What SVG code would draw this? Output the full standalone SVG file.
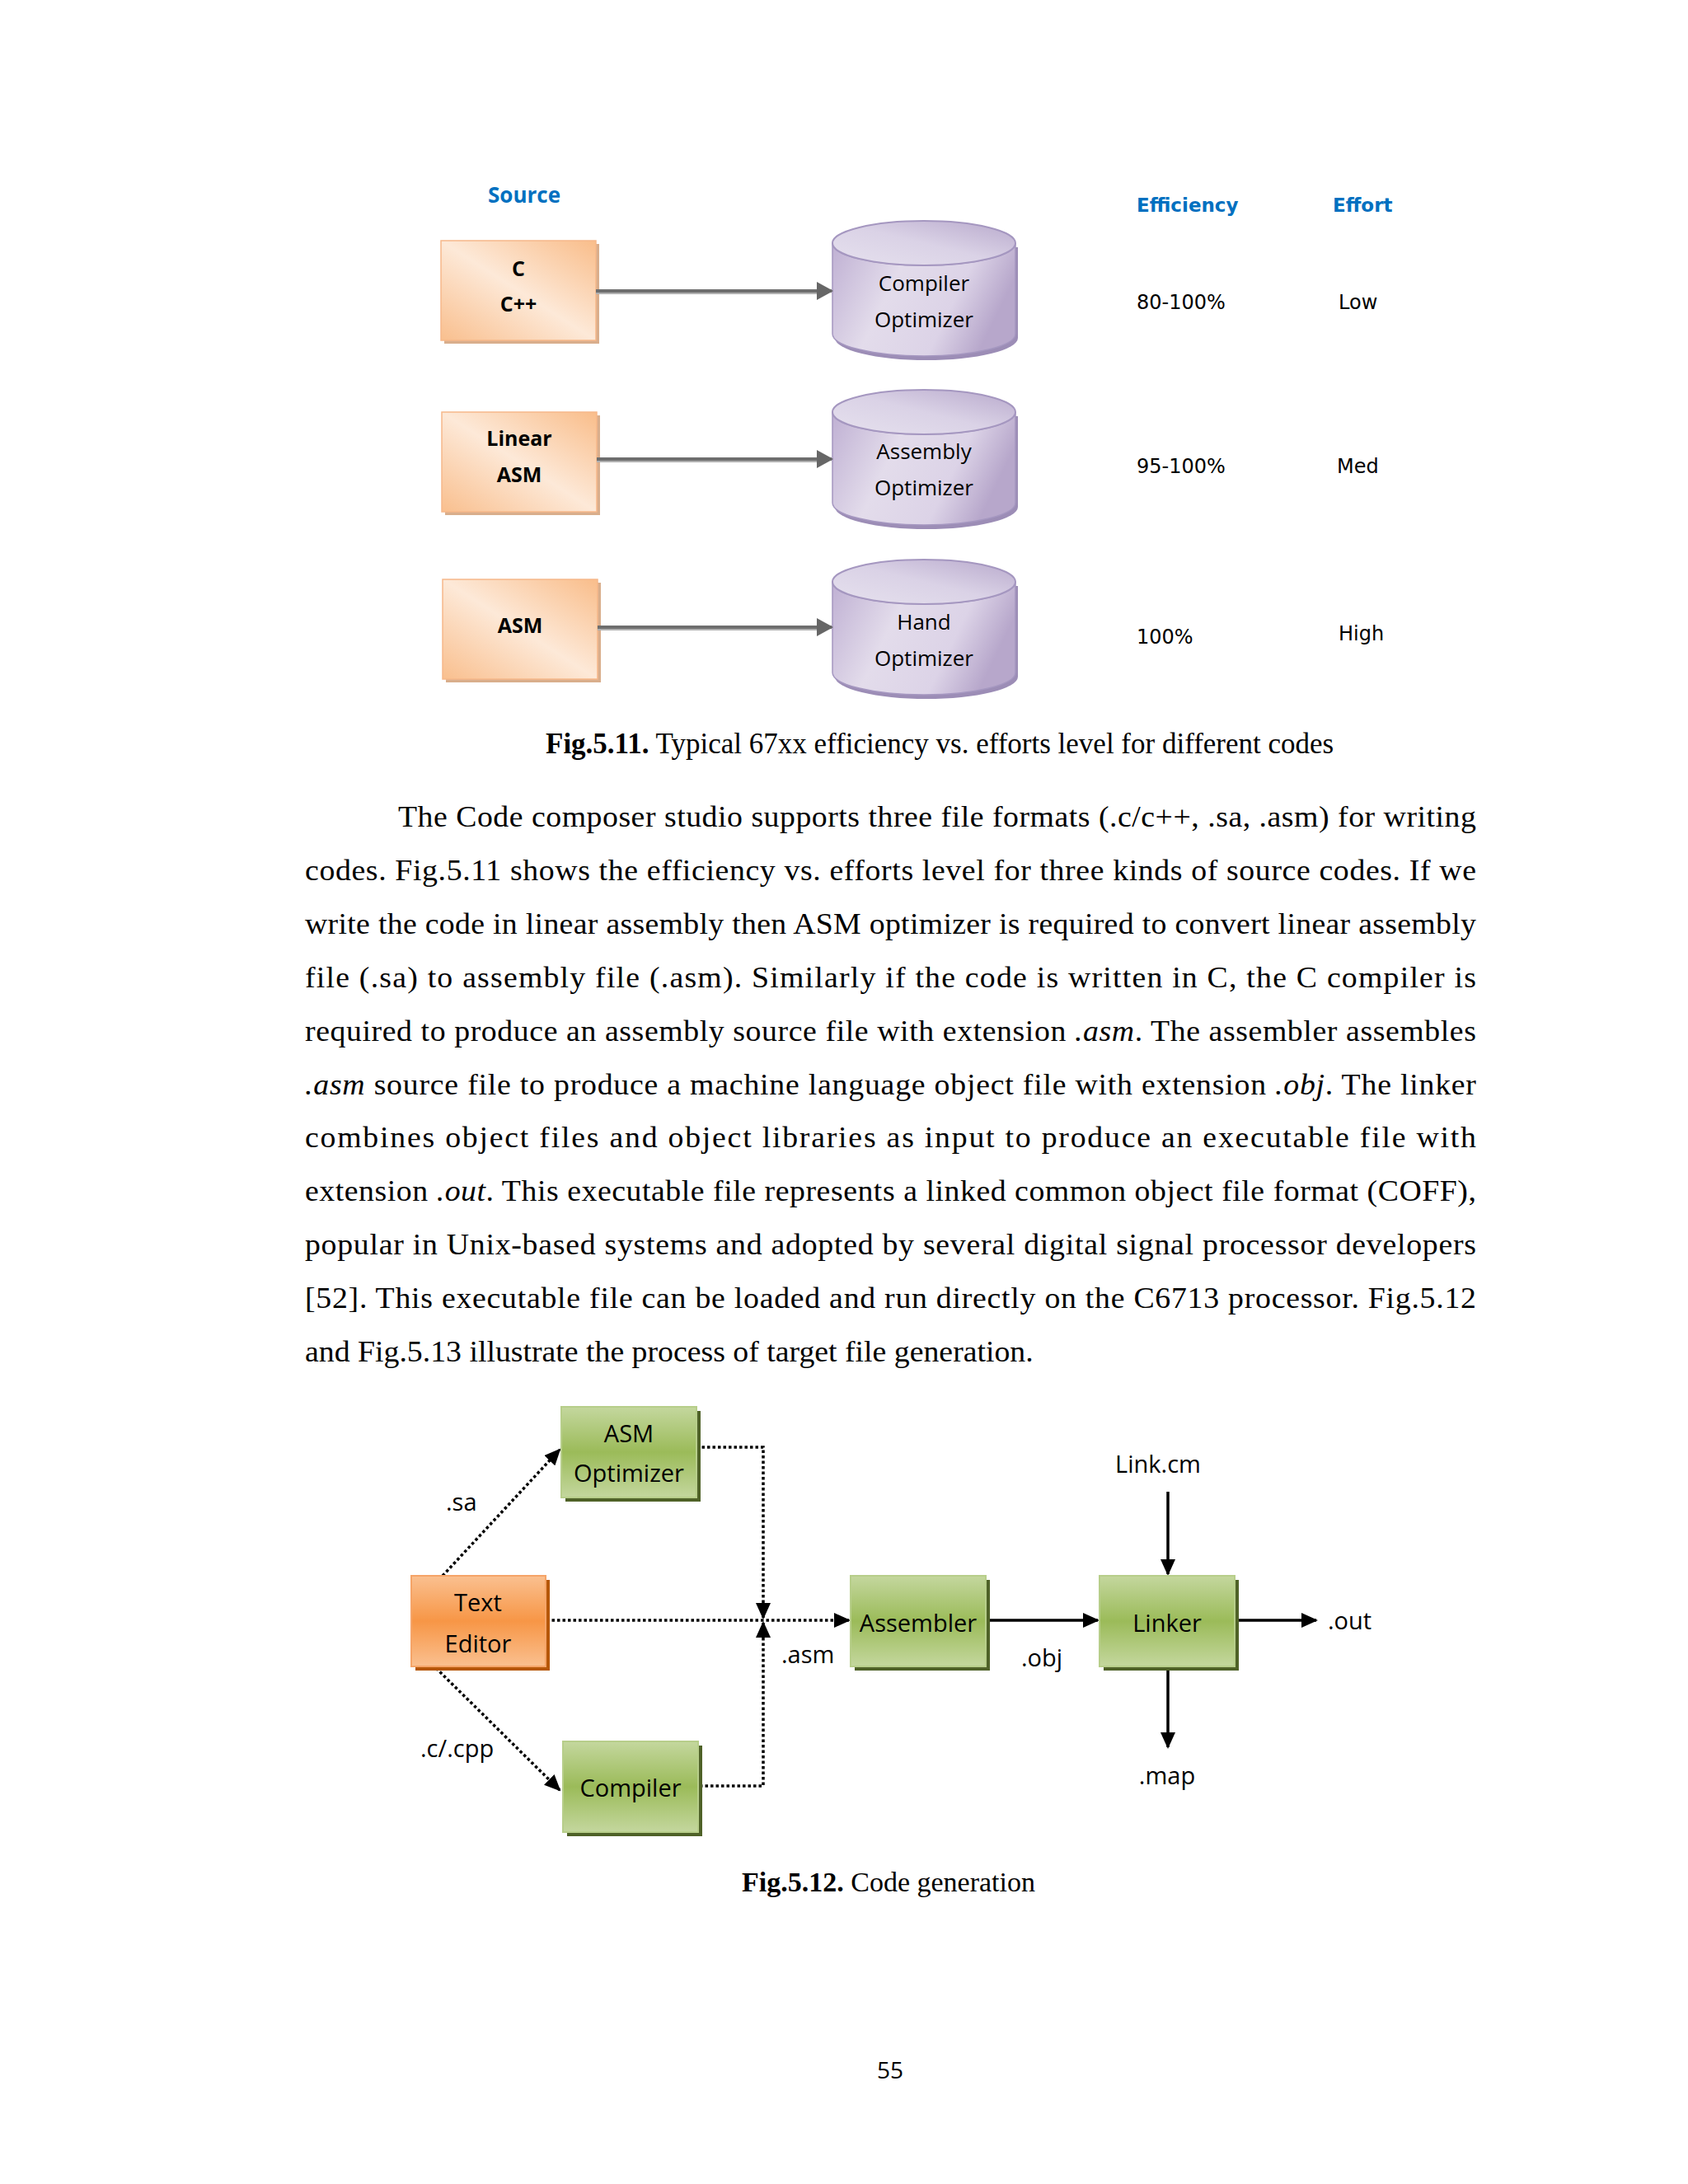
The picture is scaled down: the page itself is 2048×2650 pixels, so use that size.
<svg xmlns="http://www.w3.org/2000/svg" width="2048" height="2650" viewBox="0 0 2048 2650">
<defs>
<style>
.body{font-family:"Liberation Serif","Times New Roman",serif;font-size:35px;fill:#000}
.cap{font-family:"Liberation Serif","Times New Roman",serif;font-size:34px;fill:#000}
.hdr{font-family:"Open Sans","Noto Sans",sans-serif;font-size:26px;font-weight:bold;fill:#0070C0}
.col{font-family:"DejaVu Sans",Verdana,sans-serif;font-size:23px;font-weight:bold;fill:#0070C0}
.val{font-family:"DejaVu Sans",Verdana,sans-serif;font-size:24px;fill:#000}
.src{font-family:"Open Sans","Noto Sans",sans-serif;font-size:25px;font-weight:bold;fill:#000;text-anchor:middle}
.cyl{font-family:"Open Sans","Noto Sans",sans-serif;font-size:26px;fill:#000;text-anchor:middle}
.lbl{font-family:"Open Sans","Noto Sans",sans-serif;font-size:29px;fill:#000}
.mid{text-anchor:middle}
.gbox{fill:url(#gGreen);stroke:#B7CE8A;stroke-width:2}
.gsh{fill:#4F6228}
.obox{fill:url(#gPeach);stroke:#F6B88A;stroke-width:1.5}
.osh{fill:#D9AE8C}
.cbody{fill:url(#gCyl);stroke:#A597C0;stroke-width:1.5}
.ctop{fill:url(#gCylTop);stroke:#A597C0;stroke-width:2}
.csh{fill:#9C8DB6}
.garrow{fill:none;stroke:#6E6E6E;stroke-width:4}
.garrowlt{fill:none;stroke:#B0B0B0;stroke-width:2}
.dot{fill:none;stroke:#000;stroke-width:3.5;stroke-dasharray:3.5 3}
.sol{fill:none;stroke:#000;stroke-width:3.5}
</style>
<linearGradient id="gGreen" x1="0" y1="0" x2="0" y2="1">
<stop offset="0" stop-color="#C4D79E"/>
<stop offset="0.5" stop-color="#9BBB59"/>
<stop offset="1" stop-color="#C4D79E"/>
</linearGradient>
<linearGradient id="gOrange" x1="0" y1="0" x2="0" y2="1">
<stop offset="0" stop-color="#FAC090"/>
<stop offset="0.5" stop-color="#F79646"/>
<stop offset="1" stop-color="#FAC090"/>
</linearGradient>
<linearGradient id="gPeach" x1="0" y1="1" x2="1" y2="0">
<stop offset="0" stop-color="#F9BF8E"/>
<stop offset="0.5" stop-color="#FDE9D8"/>
<stop offset="1" stop-color="#F9BD8A"/>
</linearGradient>
<linearGradient id="gCyl" x1="0" y1="0" x2="1" y2="0.3">
<stop offset="0" stop-color="#BFB0D3"/>
<stop offset="0.4" stop-color="#E3DCEB"/>
<stop offset="0.75" stop-color="#DCD3E7"/>
<stop offset="1" stop-color="#B7A7CB"/>
</linearGradient>
<linearGradient id="gCylTop" x1="0" y1="1" x2="1" y2="0">
<stop offset="0" stop-color="#E6E1EE"/>
<stop offset="0.5" stop-color="#DAD2E6"/>
<stop offset="1" stop-color="#B8A9CC"/>
</linearGradient>
<marker id="ah" viewBox="0 0 20 18" markerWidth="20" markerHeight="18" refX="18" refY="9" orient="auto" markerUnits="userSpaceOnUse">
<path d="M0,0 L20,9 L0,18 Z" fill="#000"/>
</marker>
<marker id="ahg" viewBox="0 0 20 22" markerWidth="20" markerHeight="22" refX="18" refY="11" orient="auto" markerUnits="userSpaceOnUse">
<path d="M0,0 L20,11 L0,22 Z" fill="#666"/>
</marker>
</defs>
<rect x="0" y="0" width="2048" height="2650" fill="#fff"/>

<!-- ===== Figure 5.11 ===== -->
<text class="hdr mid" x="636" y="246">Source</text>
<text class="col" x="1379" y="257">Efficiency</text>
<text class="col" x="1617" y="257">Effort</text>

<g id="src-c">
<rect class="osh" x="539" y="296" width="188" height="121"/>
<rect class="obox" x="535" y="292" width="188" height="121"/>
<text class="src" x="629" y="335">C</text>
<text class="src" x="629" y="378">C++</text>
</g>
<g id="src-linear">
<rect class="osh" x="540" y="504" width="188" height="121"/>
<rect class="obox" x="536" y="500" width="188" height="121"/>
<text class="src" x="630" y="541">Linear</text>
<text class="src" x="630" y="585">ASM</text>
</g>
<g id="src-asm">
<rect class="osh" x="541" y="707" width="188" height="121"/>
<rect class="obox" x="537" y="703" width="188" height="121"/>
<text class="src" x="631" y="768">ASM</text>
</g>

<g id="cyl-compiler">
<path class="csh" transform="translate(3,5)" d="M1010,295 V405 A111,27 0 0 0 1232,405 V295 Z"/>
<path class="cbody" d="M1010,295 V405 A111,27 0 0 0 1232,405 V295 A111,27 0 0 1 1010,295 Z"/>
<ellipse class="ctop" cx="1121" cy="295" rx="111" ry="27"/>
<text class="cyl" x="1121" y="353">Compiler</text>
<text class="cyl" x="1121" y="397">Optimizer</text>
</g>
<g id="cyl-assembly">
<path class="csh" transform="translate(3,5)" d="M1010,500 V610 A111,27 0 0 0 1232,610 V500 Z"/>
<path class="cbody" d="M1010,500 V610 A111,27 0 0 0 1232,610 V500 A111,27 0 0 1 1010,500 Z"/>
<ellipse class="ctop" cx="1121" cy="500" rx="111" ry="27"/>
<text class="cyl" x="1121" y="557">Assembly</text>
<text class="cyl" x="1121" y="601">Optimizer</text>
</g>
<g id="cyl-hand">
<path class="csh" transform="translate(3,5)" d="M1010,706 V816 A111,27 0 0 0 1232,816 V706 Z"/>
<path class="cbody" d="M1010,706 V816 A111,27 0 0 0 1232,816 V706 A111,27 0 0 1 1010,706 Z"/>
<ellipse class="ctop" cx="1121" cy="706" rx="111" ry="27"/>
<text class="cyl" x="1121" y="764">Hand</text>
<text class="cyl" x="1121" y="808">Optimizer</text>
</g>

<g id="values">
<text class="val" x="1379" y="375">80-100%</text>
<text class="val" x="1624" y="375">Low</text>
<text class="val" x="1379" y="574">95-100%</text>
<text class="val" x="1622" y="574">Med</text>
<text class="val" x="1379" y="781">100%</text>
<text class="val" x="1624" y="777">High</text>
</g>

<g id="connectors-top">
<path class="garrowlt" d="M723,356 H995"/>
<path class="garrow" d="M723,353 H1009" marker-end="url(#ahg)"/>
<path class="garrowlt" d="M724,560 H995"/>
<path class="garrow" d="M724,557 H1009" marker-end="url(#ahg)"/>
<path class="garrowlt" d="M725,764 H995"/>
<path class="garrow" d="M725,761 H1009" marker-end="url(#ahg)"/>
</g>

<text class="cap" x="662" y="914" style="font-size:35px"><tspan font-weight="bold">Fig.5.11.</tspan> Typical 67xx efficiency vs. efforts level for different codes</text>

<!-- ===== Body text ===== -->
<g id="bodytext" transform="translate(370,0) scale(1.08,1)">
<text class="body" x="104.6" y="1003" textLength="1211" lengthAdjust="spacing">The Code composer studio supports three file formats (.c/c++, .sa, .asm) for writing</text>
<text class="body" x="0" y="1068" textLength="1315.7" lengthAdjust="spacing">codes. Fig.5.11 shows the efficiency vs. efforts level for three kinds of source codes. If we</text>
<text class="body" x="0" y="1133" textLength="1315.7" lengthAdjust="spacing">write the code in linear assembly then ASM optimizer is required to convert linear assembly</text>
<text class="body" x="0" y="1198" textLength="1315.7" lengthAdjust="spacing">file (.sa) to assembly file (.asm). Similarly if the code is written in C, the C compiler is</text>
<text class="body" x="0" y="1263" textLength="1315.7" lengthAdjust="spacing">required to produce an assembly source file with extension <tspan font-style="italic">.asm</tspan>. The assembler assembles</text>
<text class="body" x="0" y="1328" textLength="1315.7" lengthAdjust="spacing"><tspan font-style="italic">.asm</tspan> source file to produce a machine language object file with extension <tspan font-style="italic">.obj</tspan>. The linker</text>
<text class="body" x="0" y="1392" textLength="1315.7" lengthAdjust="spacing">combines object files and object libraries as input to produce an executable file with</text>
<text class="body" x="0" y="1457" textLength="1315.7" lengthAdjust="spacing">extension <tspan font-style="italic">.out</tspan>. This executable file represents a linked common object file format (COFF),</text>
<text class="body" x="0" y="1522" textLength="1315.7" lengthAdjust="spacing">popular in Unix-based systems and adopted by several digital signal processor developers</text>
<text class="body" x="0" y="1587" textLength="1315.7" lengthAdjust="spacing">[52]. This executable file can be loaded and run directly on the C6713 processor. Fig.5.12</text>
<text class="body" x="0" y="1652">and Fig.5.13 illustrate the process of target file generation.</text>
</g>

<!-- ===== Figure 5.12 ===== -->
<g id="connectors">
<path class="dot" d="M537,1912 L679,1759" marker-end="url(#ah)"/>
<path class="dot" d="M529,2024 L679,2172" marker-end="url(#ah)"/>
<path class="dot" d="M845,1756 H926 V1963" marker-end="url(#ah)"/>
<path class="dot" d="M849,2167 H926 V1969" marker-end="url(#ah)"/>
<path class="dot" d="M663,1966 H1030" marker-end="url(#ah)"/>
<path class="sol" d="M1196,1966 H1332" marker-end="url(#ah)"/>
<path class="sol" d="M1417,1810 V1910" marker-end="url(#ah)"/>
<path class="sol" d="M1498,1966 H1597" marker-end="url(#ah)"/>
<path class="sol" d="M1417,2022 V2120" marker-end="url(#ah)"/>
</g>

<g id="asm-optimizer">
<rect class="gsh" x="686" y="1712" width="164" height="110"/>
<rect class="gbox" x="681" y="1707" width="164" height="110"/>
<text class="lbl mid" x="763" y="1750">ASM</text>
<text class="lbl mid" x="763" y="1798">Optimizer</text>
</g>
<g id="text-editor">
<rect fill="#B65708" x="504" y="1917" width="163" height="110"/>
<rect fill="url(#gOrange)" stroke="#F5A468" stroke-width="2" x="499" y="1912" width="163" height="110"/>
<text class="lbl mid" x="580" y="1955">Text</text>
<text class="lbl mid" x="580" y="2005">Editor</text>
</g>
<g id="compiler">
<rect class="gsh" x="688" y="2118" width="164" height="110"/>
<rect class="gbox" x="683" y="2113" width="164" height="110"/>
<text class="lbl mid" x="765" y="2180">Compiler</text>
</g>
<g id="assembler">
<rect class="gsh" x="1037" y="1917" width="164" height="110"/>
<rect class="gbox" x="1032" y="1912" width="164" height="110"/>
<text class="lbl mid" x="1114" y="1980">Assembler</text>
</g>
<g id="linker">
<rect class="gsh" x="1339" y="1917" width="164" height="110"/>
<rect class="gbox" x="1334" y="1912" width="164" height="110"/>
<text class="lbl mid" x="1416" y="1980">Linker</text>
</g>

<g id="labels">
<text class="lbl" x="541" y="1833">.sa</text>
<text class="lbl" x="510" y="2132">.c/.cpp</text>
<text class="lbl" x="948" y="2018">.asm</text>
<text class="lbl" x="1239" y="2022">.obj</text>
<text class="lbl mid" x="1405" y="1787">Link.cm</text>
<text class="lbl" x="1611" y="1977">.out</text>
<text class="lbl mid" x="1416" y="2165">.map</text>
</g>

<text class="cap" x="900" y="2295"><tspan font-weight="bold">Fig.5.12.</tspan> Code generation</text>
<text class="lbl mid" x="1080" y="2522" style="font-size:28px">55</text>
</svg>
